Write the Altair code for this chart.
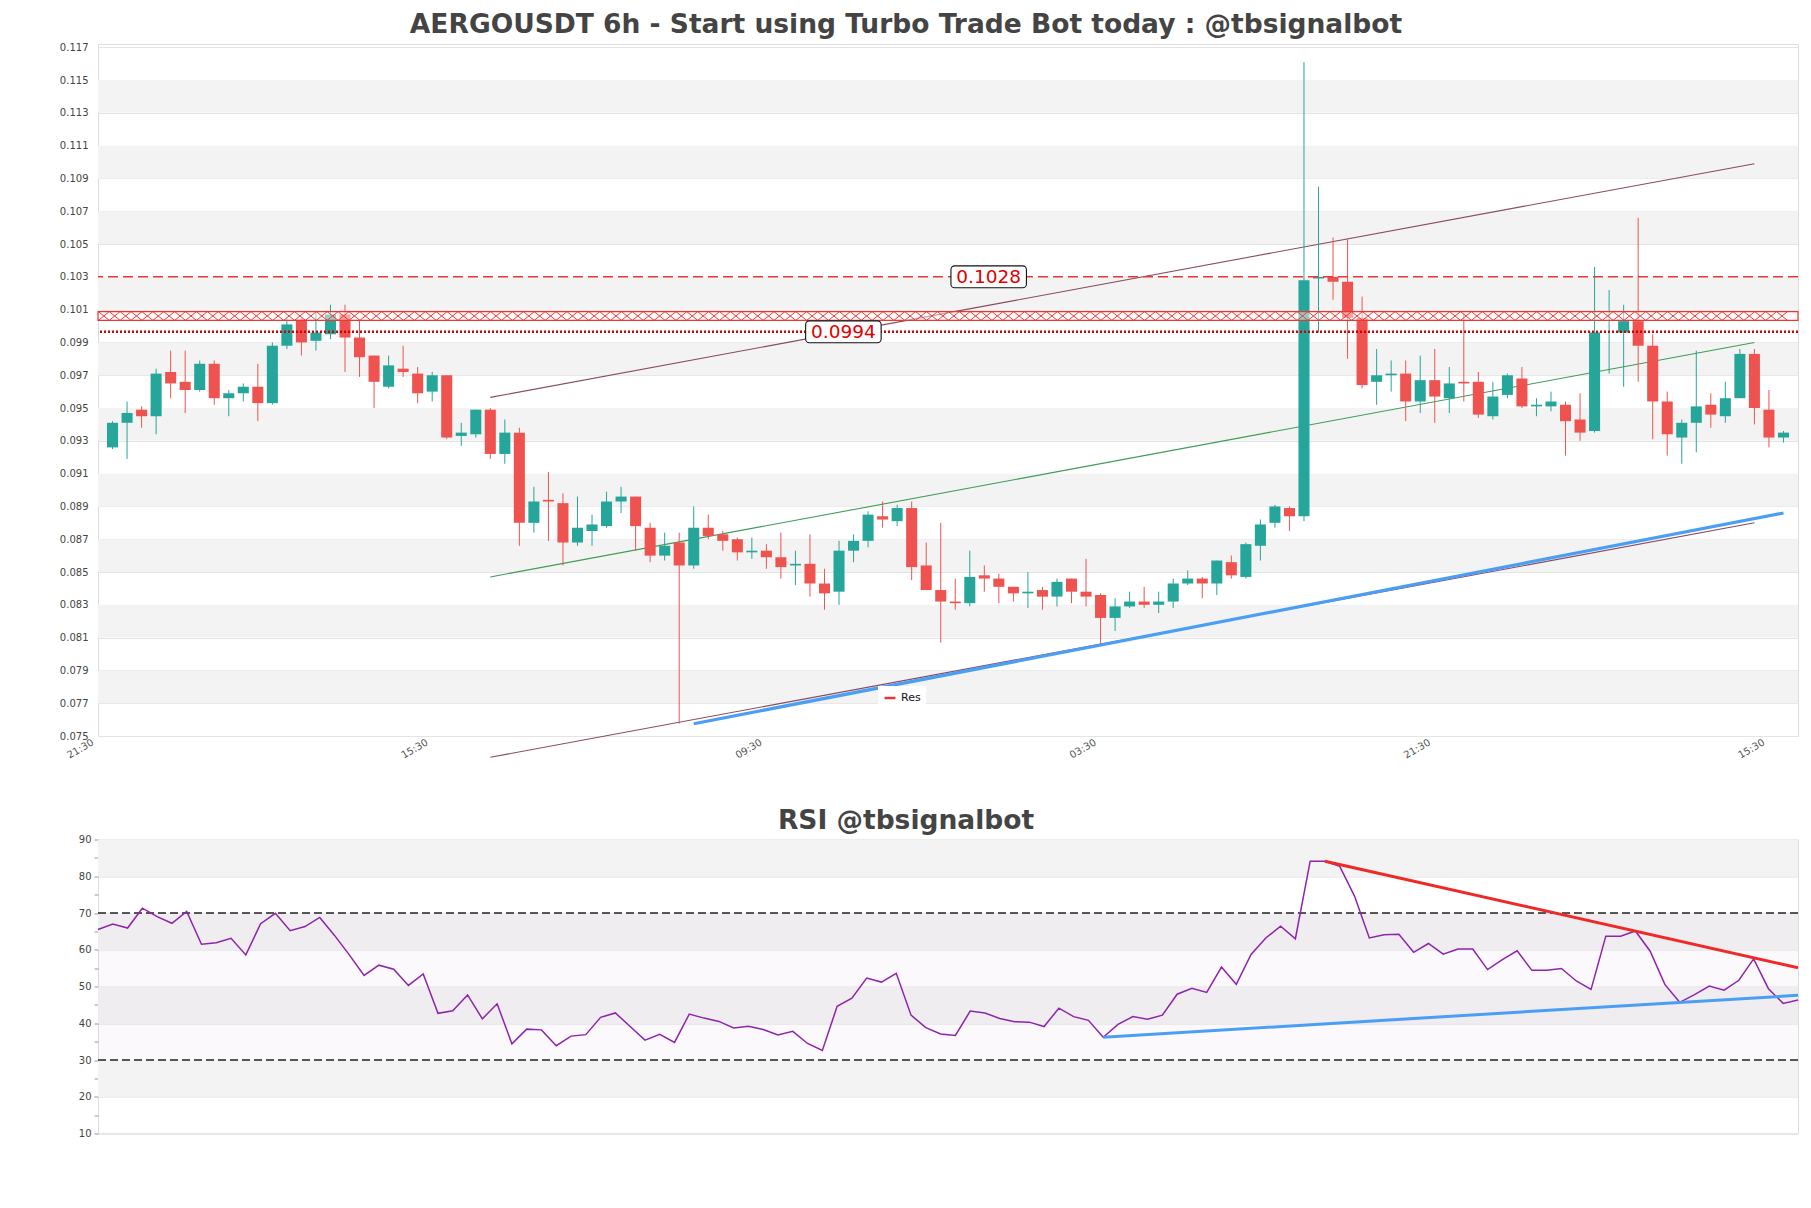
import altair as alt
import pandas as pd

# ---------------- data ----------------
OPEN = [0.0926, 0.0941, 0.0949, 0.0945, 0.0972, 0.0966, 0.0961, 0.0977, 0.0956, 0.0959,
        0.0963, 0.0953, 0.0988, 0.1004, 0.0991, 0.0995, 0.1007, 0.0993, 0.0982, 0.0963,
        0.0974, 0.0971, 0.0960, 0.0970, 0.0933, 0.0934, 0.0949, 0.0922, 0.0935, 0.0880,
        0.0894, 0.0892, 0.0868, 0.0875, 0.0878, 0.0893, 0.0896, 0.0877, 0.0860, 0.0868,
        0.0854, 0.0877, 0.0873, 0.0870, 0.0862, 0.0863, 0.0859, 0.0854, 0.0855, 0.0843,
        0.0838, 0.0863, 0.0869, 0.0884, 0.0881, 0.0889, 0.0854, 0.0839, 0.0832, 0.0831,
        0.0848, 0.0846, 0.0841, 0.0837, 0.0839, 0.0835, 0.0846, 0.0838, 0.0836, 0.0822,
        0.0829, 0.0832, 0.0830, 0.0832, 0.0843, 0.0846, 0.0843, 0.0856, 0.0847, 0.0866,
        0.0880, 0.0889, 0.0884, 0.1029, 0.1030, 0.1027, 0.1005, 0.0966, 0.0970, 0.0971,
        0.0954, 0.0967, 0.0956, 0.0966, 0.0966, 0.0945, 0.0958, 0.0968, 0.0951, 0.0951,
        0.0952, 0.0943, 0.0936, 0.0996, 0.0996, 0.1003, 0.0988, 0.0954, 0.0932, 0.0941,
        0.0952, 0.0945, 0.0956, 0.0983, 0.0949, 0.0932]
HIGH = [0.0942, 0.0954, 0.0951, 0.0974, 0.0985, 0.0985, 0.0979, 0.0979, 0.0961, 0.0965,
        0.0977, 0.0990, 0.1005, 0.1005, 0.1009, 0.1013, 0.1013, 0.1004, 0.0982, 0.0982,
        0.0988, 0.0975, 0.0972, 0.0970, 0.0941, 0.0949, 0.0950, 0.0943, 0.0938, 0.0902,
        0.0911, 0.0898, 0.0896, 0.0885, 0.0899, 0.0902, 0.0896, 0.0880, 0.0874, 0.0874,
        0.0890, 0.0885, 0.0875, 0.0871, 0.0871, 0.0867, 0.0874, 0.0863, 0.0873, 0.0852,
        0.0869, 0.0873, 0.0887, 0.0893, 0.0891, 0.0893, 0.0868, 0.0880, 0.0846, 0.0863,
        0.0854, 0.0849, 0.0841, 0.0850, 0.0841, 0.0846, 0.0846, 0.0858, 0.0837, 0.0834,
        0.0838, 0.0841, 0.0838, 0.0846, 0.0851, 0.0847, 0.0857, 0.0860, 0.0868, 0.0882,
        0.0891, 0.0890, 0.1161, 0.1085, 0.1054, 0.1053, 0.1018, 0.0986, 0.0979, 0.0979,
        0.0982, 0.0986, 0.0975, 0.1008, 0.0972, 0.0966, 0.0971, 0.0975, 0.0956, 0.0960,
        0.0954, 0.0959, 0.1036, 0.1022, 0.1013, 0.1066, 0.0995, 0.0960, 0.0943, 0.0985,
        0.0959, 0.0966, 0.0986, 0.0986, 0.0961, 0.0936]
LOW = [0.0925, 0.0919, 0.0938, 0.0934, 0.0956, 0.0947, 0.0960, 0.0952, 0.0945, 0.0954,
       0.0942, 0.0952, 0.0986, 0.0982, 0.0985, 0.0992, 0.0972, 0.0969, 0.0950, 0.0962,
       0.0969, 0.0953, 0.0954, 0.0931, 0.0927, 0.0932, 0.0919, 0.0916, 0.0866, 0.0874,
       0.0869, 0.0854, 0.0866, 0.0866, 0.0877, 0.0886, 0.0863, 0.0856, 0.0857, 0.07575,
       0.0852, 0.0870, 0.0863, 0.0857, 0.0858, 0.0852, 0.0846, 0.0842, 0.0835, 0.0827,
       0.0830, 0.0856, 0.0865, 0.0877, 0.0878, 0.0845, 0.0839, 0.0807, 0.0827, 0.0829,
       0.0838, 0.0831, 0.0832, 0.0828, 0.0827, 0.0829, 0.0831, 0.0829, 0.0806, 0.0814,
       0.0828, 0.0828, 0.0825, 0.0828, 0.0842, 0.0834, 0.0836, 0.0846, 0.0846, 0.0857,
       0.0877, 0.0875, 0.0881, 0.0996, 0.1016, 0.0980, 0.0962, 0.0952, 0.0960, 0.0942,
       0.0947, 0.0941, 0.0947, 0.0954, 0.0944, 0.0943, 0.0956, 0.0950, 0.0945, 0.0948,
       0.0921, 0.0930, 0.0935, 0.0971, 0.0963, 0.0966, 0.0931, 0.0921, 0.0916, 0.0923,
       0.0938, 0.0941, 0.0956, 0.0940, 0.0926, 0.0929]
CLOSE = [0.0941, 0.0947, 0.0945, 0.0971, 0.0965, 0.0961, 0.0977, 0.0956, 0.0959, 0.0963,
         0.0953, 0.0988, 0.1001, 0.0990, 0.0996, 0.1007, 0.0993, 0.0981, 0.0966, 0.0976,
         0.0972, 0.0959, 0.0970, 0.0932, 0.0935, 0.0949, 0.0922, 0.0935, 0.0880, 0.0893,
         0.0893, 0.0868, 0.0877, 0.0879, 0.0893, 0.0896, 0.0878, 0.0860, 0.0866, 0.0854,
         0.0877, 0.0872, 0.0869, 0.0862, 0.0863, 0.0859, 0.0853, 0.0855, 0.0843, 0.0837,
         0.0863, 0.0869, 0.0885, 0.0882, 0.0889, 0.0853, 0.0839, 0.0832, 0.0831, 0.0847,
         0.0846, 0.0841, 0.0837, 0.0838, 0.0835, 0.0844, 0.0838, 0.0835, 0.0822, 0.0829,
         0.0832, 0.0830, 0.0832, 0.0843, 0.0846, 0.0843, 0.0857, 0.0848, 0.0867, 0.0879,
         0.0890, 0.0884, 0.1028, 0.1030, 0.1027, 0.1005, 0.0964, 0.0970, 0.0971, 0.0954,
         0.0967, 0.0957, 0.0965, 0.0965, 0.0946, 0.0957, 0.0970, 0.0951, 0.0952, 0.0954,
         0.0942, 0.0935, 0.0996, 0.0996, 0.1003, 0.0988, 0.0954, 0.0934, 0.0941, 0.0951,
         0.0946, 0.0956, 0.0983, 0.0950, 0.0932, 0.0935]
RSI = [65.5, 67.0, 65.9, 71.3, 69.0, 67.2, 70.4, 61.5, 61.9, 63.1, 58.6, 67.1, 69.9, 65.2,
       66.3, 68.8, 63.9, 58.6, 53.0, 55.8, 54.7, 50.3, 53.4, 42.7, 43.4, 47.7, 41.2, 45.3,
       34.4, 38.4, 38.2, 33.9, 36.5, 36.9, 41.6, 42.8, 39.1, 35.4, 37.0, 34.8, 42.5, 41.4,
       40.5, 38.7, 39.2, 38.3, 36.8, 37.8, 34.5, 32.6, 44.6, 46.8, 52.3, 51.2, 53.6, 42.2,
       38.8, 37.1, 36.7, 43.3, 42.8, 41.3, 40.4, 40.3, 39.1, 44.1, 41.8, 40.8, 36.2, 39.7,
       41.8, 41.1, 42.2, 47.9, 49.5, 48.4, 55.3, 50.6, 58.7, 63.2, 66.4, 63.0, 84.1, 84.1,
       82.7, 74.6, 63.2, 64.1, 64.2, 59.3, 61.7, 58.8, 60.2, 60.2, 54.6, 57.3, 59.7, 54.4,
       54.4, 54.9, 51.5, 49.2, 63.7, 63.7, 65.1, 59.6, 50.5, 45.7, 47.8, 50.1, 49.0, 51.7,
       57.5, 49.4, 45.4, 46.3]

TICK_POS = [-1, 22, 45, 68, 91, 114]
TICK_LABELS = ["21:30", "15:30", "09:30", "03:30", "21:30", "15:30"]
PRICE_TICKS = [0.075, 0.077, 0.079, 0.081, 0.083, 0.085, 0.087, 0.089, 0.091, 0.093, 0.095,
               0.097, 0.099, 0.101, 0.103, 0.105, 0.107, 0.109, 0.111, 0.113, 0.115, 0.117]
PRICE_BAND_LO = [0.077, 0.081, 0.085, 0.089, 0.093, 0.097, 0.101, 0.105, 0.109, 0.113]
PRICE_BAND_HI = [0.079, 0.083, 0.087, 0.091, 0.095, 0.099, 0.103, 0.107, 0.111, 0.115]

# channel lines (index, value)
CH_NAME = ["upper", "upper", "lower", "lower"]
CH_I = [26, 113, 26, 113]
CH_V = [0.09565, 0.1099, 0.0737, 0.0880]
MID_I = [26, 113]
MID_V = [0.0847, 0.0990]
SUP_I = [40, 115]
SUP_V = [0.07575, 0.0886]

RES_NAME = ["Res"]
RES_DASHED = [0.1030]
RES_DOTTED = [0.09965]
ZONE_LO = [0.10035]
ZONE_HI = [0.10088]
LEVEL_I = [60.3, 50.3]
LEVEL_V = [0.1030, 0.09965]
LEVEL_TEXT = ["0.1028", "0.0994"]

RSI_TICKS = [10, 15, 20, 25, 30, 35, 40, 45, 50, 55, 60, 65, 70, 75, 80, 85, 90]
RSI_BAND_LO = [20, 40, 60, 80]
RSI_BAND_HI = [30, 50, 70, 90]
RSI_LEVELS = [30, 70]
RSI_ZONE_LO = [30]
RSI_ZONE_HI = [70]
RSI_RED_I = [83, 115]
RSI_RED_V = [84.1, 55.1]
RSI_BLUE_I = [68, 115]
RSI_BLUE_V = [36.2, 47.6]

# ---------------- styling ----------------
FONT = "DejaVu Sans"
UP = "#26a69a"
DOWN = "#ef5350"
BAND = "#f3f3f3"
W = 1700
H1 = 692
H2 = 294

n = len(OPEN)
candles = pd.DataFrame({"i": list(range(n)), "open": OPEN, "high": HIGH, "low": LOW, "close": CLOSE})

xs = alt.Scale(domain=[-1, 116], nice=False, zero=False)
ys = alt.Scale(domain=[0.075, 0.1172], nice=False, zero=False)

label_expr = "[" + ",".join("'%s'" % t for t in TICK_LABELS) + "][indexof([" + \
    ",".join(str(p) for p in TICK_POS) + "], datum.value)]"

x_axis = alt.Axis(values=TICK_POS, labelExpr=label_expr, labelAngle=-30, ticks=False,
                  domain=False, grid=False, labelFontSize=10, labelColor="#555",
                  labelFont=FONT, labelPadding=1, labelOffset=-8, labelOverlap=False,
                  labelFlush=False, title=None)
y_axis = alt.Axis(values=PRICE_TICKS, format=".3f", ticks=False, domain=False, grid=True,
                  gridColor="#e4e4e4", labelFontSize=10, labelColor="#444", labelFont=FONT,
                  labelPadding=10, minExtent=92, maxExtent=92, title=None)


def PX(f):
    return alt.X(f, type="quantitative", scale=xs, axis=x_axis)


def PY(f):
    return alt.Y(f, type="quantitative", scale=ys, axis=y_axis)


bands = alt.Chart(pd.DataFrame({"lo": PRICE_BAND_LO, "hi": PRICE_BAND_HI})).mark_rect(
    color=BAND).encode(x=alt.value(0), x2=alt.value(W), y=PY("lo"), y2="hi")

channel = alt.Chart(pd.DataFrame({"name": CH_NAME, "i": CH_I, "v": CH_V})).mark_line(
    color="#8a4a5e", strokeWidth=1.1, clip=False).encode(x=PX("i"), y=PY("v"), detail="name:N")
mid = alt.Chart(pd.DataFrame({"i": MID_I, "v": MID_V})).mark_line(
    color="#3d9c55", strokeWidth=1.1).encode(x=PX("i"), y=PY("v"))
support = alt.Chart(pd.DataFrame({"i": SUP_I, "v": SUP_V})).mark_line(
    color="#4a9ff5", strokeWidth=3.2).encode(x=PX("i"), y=PY("v"))

candle_color = alt.condition("datum.close >= datum.open", alt.value(UP), alt.value(DOWN))
wicks = alt.Chart(candles).mark_rule(strokeWidth=1).encode(
    x=PX("i"), y=PY("low"), y2="high", color=candle_color)
bodies = alt.Chart(candles).transform_calculate(
    xa="datum.i - 0.38", xb="datum.i + 0.38").mark_rect().encode(
    x=PX("xa"), x2="xb", y=PY("open"), y2="close", color=candle_color)

dashed = alt.Chart(pd.DataFrame({"name": RES_NAME, "v": RES_DASHED})).mark_rule(
    strokeWidth=1.5, strokeDash=[10, 5]).encode(
    y=PY("v"),
    color=alt.Color("name:N", scale=alt.Scale(domain=RES_NAME, range=["#e53935"]),
                    legend=alt.Legend(title=None, orient="none", legendX=780, legendY=642,
                                      fillColor="white", padding=5, symbolType="stroke",
                                      symbolStrokeWidth=2.5, symbolSize=120,
                                      symbolDash=[1, 0], labelFontSize=11, labelFont=FONT,
                                      labelColor="#111", symbolStrokeColor="#d32f2f")))
dotted = alt.Chart(pd.DataFrame({"v": RES_DOTTED})).mark_rule(
    strokeWidth=2.6, strokeDash=[2, 2], color="#d40000").encode(y=PY("v"))
zone = alt.Chart(pd.DataFrame({"lo": ZONE_LO, "hi": ZONE_HI})).mark_rect(
    fill="#fff4f4", fillOpacity=0.5, stroke="#e53935", strokeWidth=1.2).encode(
    x=alt.value(0), x2=alt.value(W), y=PY("lo"), y2="hi")
xpat = alt.Chart(pd.DataFrame({"k": list(range(155))})).transform_calculate(
    i="-0.6 + datum.k * 0.75", v=str((ZONE_LO[0] + ZONE_HI[0]) / 2)).mark_point(
    shape="M-1,-0.8L1,0.8M-1,0.8L1,-0.8", size=120, filled=False, color="#e53935",
    strokeWidth=0.95, opacity=1, clip=True).encode(x=PX("i"), y=PY("v"))

levels = pd.DataFrame({"i": LEVEL_I, "v": LEVEL_V, "t": LEVEL_TEXT})
box_path = ("M-0.9,-0.29H0.9A0.1,0.1 0 0 1 1,-0.19V0.19A0.1,0.1 0 0 1 0.9,0.29"
            "H-0.9A0.1,0.1 0 0 1 -1,0.19V-0.19A0.1,0.1 0 0 1 -0.9,-0.29Z")
boxes = alt.Chart(levels).mark_point(shape=box_path, size=5700, filled=True, fill="white",
                                     stroke="#111", strokeWidth=1.1, opacity=1).encode(
    x=PX("i"), y=PY("v"))
texts = alt.Chart(levels).mark_text(fontSize=18.5, font=FONT, color="#e00000").encode(
    x=PX("i"), y=PY("v"), text="t:N")

price = alt.layer(bands, channel, mid, support, wicks, bodies, zone, xpat, dashed, dotted,
                  boxes, texts).properties(
    width=W, height=H1,
    title=alt.TitleParams("AERGOUSDT 6h - Start using Turbo Trade Bot today : @tbsignalbot",
                          fontSize=26.5, font=FONT, fontWeight="bold", color="#444",
                          anchor="middle", dx=-42, offset=3.5))

# ---------------- RSI ----------------
rx = alt.Scale(domain=[0, 115], nice=False, zero=False)
ry = alt.Scale(domain=[10, 90], nice=False, zero=False)
r_axis = alt.Axis(values=RSI_TICKS, labelExpr="datum.value % 10 == 0 ? datum.label : ''",
                  tickSize=4, tickColor="#999", domain=False, grid=True, gridColor="#e0e0e0",
                  gridOpacity={"condition": {"test": "datum.value % 10 == 0", "value": 1},
                               "value": 0},
                  labelFontSize=10, labelColor="#444", labelFont=FONT, labelPadding=3,
                  minExtent=92, maxExtent=92, title=None)


def RX(f):
    return alt.X(f, type="quantitative", scale=rx, axis=None)


def RY(f):
    return alt.Y(f, type="quantitative", scale=ry, axis=r_axis)


rbands = alt.Chart(pd.DataFrame({"lo": RSI_BAND_LO, "hi": RSI_BAND_HI})).mark_rect(
    color=BAND).encode(x=alt.value(0), x2=alt.value(W), y=RY("lo"), y2="hi")
rzone = alt.Chart(pd.DataFrame({"lo": RSI_ZONE_LO, "hi": RSI_ZONE_HI})).mark_rect(
    color="#b070c0", opacity=0.045).encode(
    x=alt.value(0), x2=alt.value(W), y=RY("lo"), y2="hi")
rlevels = alt.Chart(pd.DataFrame({"v": RSI_LEVELS})).mark_rule(
    color="#222", strokeWidth=1.4, strokeDash=[8, 4]).encode(y=RY("v"))
rline = alt.Chart(pd.DataFrame({"i": list(range(len(RSI))), "v": RSI})).mark_line(
    color="#8e24aa", strokeWidth=1.5).encode(x=RX("i"), y=RY("v"))
rred = alt.Chart(pd.DataFrame({"i": RSI_RED_I, "v": RSI_RED_V})).mark_line(
    color="#f02828", strokeWidth=3).encode(x=RX("i"), y=RY("v"))
rblue = alt.Chart(pd.DataFrame({"i": RSI_BLUE_I, "v": RSI_BLUE_V})).mark_line(
    color="#4a9ff5", strokeWidth=3).encode(x=RX("i"), y=RY("v"))

rsi = alt.layer(rbands, rzone, rlevels, rline, rred, rblue).properties(
    width=W, height=H2,
    title=alt.TitleParams("RSI @tbsignalbot", fontSize=26.5, font=FONT, fontWeight="bold",
                          color="#444", anchor="middle", dx=-42, offset=0.5))

chart = alt.vconcat(price, rsi, spacing=45.5).resolve_legend(color="independent").configure(
    padding={"left": 5, "top": 11, "right": 5, "bottom": 5}
).configure_view(stroke="#dddddd")

chart.save("out.html", embed_options={"renderer": "svg", "actions": False})
